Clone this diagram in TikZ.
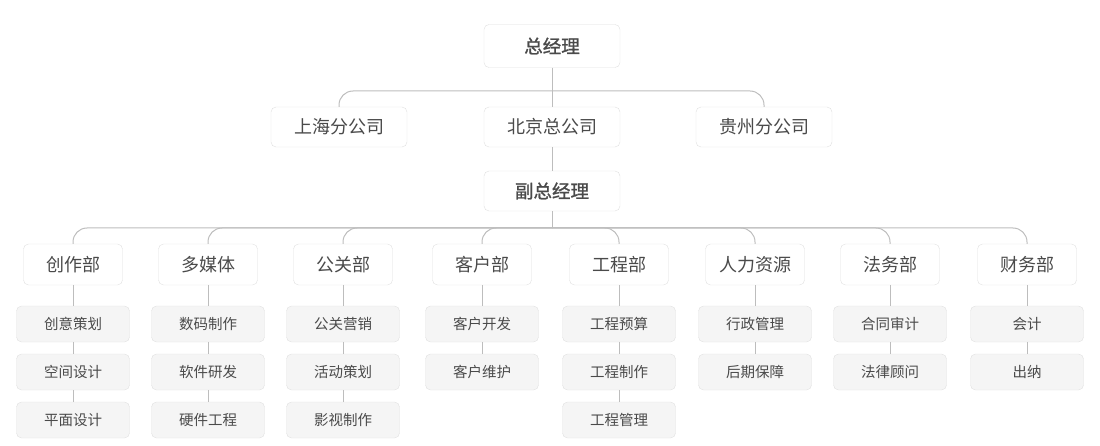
\documentclass[tikz,border=0pt]{standalone}
\usepackage{fontspec}
\setmainfont{Noto Sans CJK SC}
\newfontfamily\headfont{Noto Sans CJK SC}[FakeBold=1.2]
\definecolor{boxline}{HTML}{E0E0E0}
\definecolor{subfill}{HTML}{F5F5F5}
\definecolor{linegray}{HTML}{BDBDBD}
\definecolor{textgray}{HTML}{4A4A4A}
\begin{document}
\begin{tikzpicture}[x=1pt,y=-1pt,
  box/.style={draw=boxline,fill=white,rounded corners=5pt,minimum width=136pt,minimum height=40pt,text=textgray,font=\fontsize{18}{18}\selectfont},
  head/.style={box,font=\headfont\fontsize{18.5}{18.5}\selectfont},
  dept/.style={box,minimum width=99pt,minimum height=41pt},
  sub/.style={draw=boxline,fill=subfill,rounded corners=5pt,minimum width=113pt,minimum height=36pt,text=textgray,font=\fontsize{14.5}{14.5}\selectfont},
  conn/.style={draw=linegray,line width=1pt,rounded corners=14pt}]
\useasboundingbox (0,0) rectangle (1100,446);

% top levels
\node[head,minimum height=43pt] (gm) at (552,46) {总经理};
\node[box] (sh) at (339,127) {上海分公司};
\node[box] (bj) at (552,127) {北京总公司};
\node[box] (gz) at (764,127) {贵州分公司};
\node[head] (vgm) at (552,191) {副总经理};

\coordinate (bus1) at (552,91);
\coordinate (bus2) at (552,228);

\draw[conn] (gm) -- (bj);
\draw[conn] (bus1) -| (sh.north);
\draw[conn] (bus1) -| (gz.north);
\draw[conn] (bj) -- (vgm);

% departments
\node[dept] (cre) at (73,264.5) {创作部};
\node[dept] (mm) at (208,264.5) {多媒体};
\node[dept] (pr) at (343,264.5) {公关部};
\node[dept] (cus) at (482,264.5) {客户部};
\node[dept] (eng) at (619,264.5) {工程部};
\node[dept] (hr) at (755,264.5) {人力资源};
\node[dept] (law) at (890,264.5) {法务部};
\node[dept] (fin) at (1027,264.5) {财务部};

\draw[conn] (vgm) -- (bus2);
\draw[conn] (bus2) -| (cre.north);
\draw[conn] (bus2) -| (mm.north);
\draw[conn] (bus2) -| (pr.north);
\draw[conn] (bus2) -| (cus.north);
\draw[conn] (bus2) -| (eng.north);
\draw[conn] (bus2) -| (hr.north);
\draw[conn] (bus2) -| (law.north);
\draw[conn] (bus2) -| (fin.north);

% sections
\node[sub] (cre1) at (73,324) {创意策划};
\node[sub] (cre2) at (73,372) {空间设计};
\node[sub] (cre3) at (73,420) {平面设计};
\node[sub] (mm1) at (208,324) {数码制作};
\node[sub] (mm2) at (208,372) {软件研发};
\node[sub] (mm3) at (208,420) {硬件工程};
\node[sub] (pr1) at (343,324) {公关营销};
\node[sub] (pr2) at (343,372) {活动策划};
\node[sub] (pr3) at (343,420) {影视制作};
\node[sub] (cus1) at (482,324) {客户开发};
\node[sub] (cus2) at (482,372) {客户维护};
\node[sub] (eng1) at (619,324) {工程预算};
\node[sub] (eng2) at (619,372) {工程制作};
\node[sub] (eng3) at (619,420) {工程管理};
\node[sub] (hr1) at (755,324) {行政管理};
\node[sub] (hr2) at (755,372) {后期保障};
\node[sub] (law1) at (890,324) {合同审计};
\node[sub] (law2) at (890,372) {法律顾问};
\node[sub] (fin1) at (1027,324) {会计};
\node[sub] (fin2) at (1027,372) {出纳};

\draw[conn] (cre) -- (cre1);
\draw[conn] (cre1) -- (cre2);
\draw[conn] (cre2) -- (cre3);
\draw[conn] (mm) -- (mm1);
\draw[conn] (mm1) -- (mm2);
\draw[conn] (mm2) -- (mm3);
\draw[conn] (pr) -- (pr1);
\draw[conn] (pr1) -- (pr2);
\draw[conn] (pr2) -- (pr3);
\draw[conn] (cus) -- (cus1);
\draw[conn] (cus1) -- (cus2);
\draw[conn] (eng) -- (eng1);
\draw[conn] (eng1) -- (eng2);
\draw[conn] (eng2) -- (eng3);
\draw[conn] (hr) -- (hr1);
\draw[conn] (hr1) -- (hr2);
\draw[conn] (law) -- (law1);
\draw[conn] (law1) -- (law2);
\draw[conn] (fin) -- (fin1);
\draw[conn] (fin1) -- (fin2);
\end{tikzpicture}
\end{document}
